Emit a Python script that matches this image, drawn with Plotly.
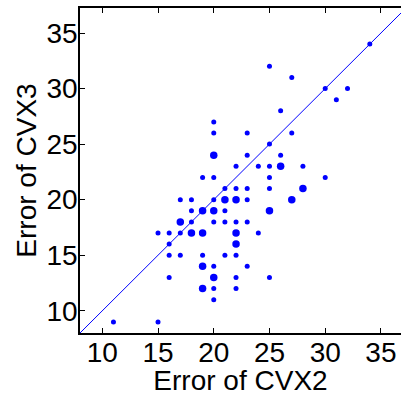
import plotly.graph_objects as go

# Paired errors (integer valued); count = number of coincident samples
cvx2_error = [11, 15, 15, 16, 16, 16, 16, 17, 17, 17, 17, 18, 18, 18, 18,
              19, 19, 19, 19, 19, 19, 20, 20, 20, 20, 20, 20, 20, 20, 20, 20, 20,
              21, 21, 21, 21, 21, 22, 22, 22, 22, 22, 22, 22, 22, 22,
              23, 23, 23, 23, 23, 23, 24, 24, 25, 25, 25, 25, 25, 25, 25,
              26, 26, 26, 27, 27, 27, 28, 28, 30, 30, 31, 32, 34]
cvx3_error = [9, 9, 17, 17, 16, 15, 13, 20, 18, 17, 15, 20, 19, 18, 17,
              22, 19, 17, 15, 14, 12, 27, 26, 24, 22, 20, 19, 18, 14, 13, 12, 11,
              21, 20, 19, 18, 15, 23, 21, 20, 18, 17, 16, 15, 13, 12,
              26, 24, 21, 20, 18, 14, 23, 17, 32, 25, 23, 22, 21, 19, 13,
              28, 24, 23, 31, 26, 20, 23, 21, 30, 22, 29, 30, 34]
counts = [1, 1, 1, 1, 1, 1, 1, 1, 2, 1, 1, 1, 1, 1, 2,
          1, 2, 2, 1, 2, 2, 1, 1, 2, 1, 1, 2, 1, 1, 2, 1, 1,
          1, 2, 1, 1, 1, 1, 1, 2, 1, 2, 2, 1, 1, 1,
          1, 1, 1, 1, 1, 1, 1, 1, 1, 1, 1, 1, 1, 2, 1,
          1, 1, 2, 1, 1, 2, 1, 2, 1, 1, 1, 1, 1]

diag = [8, 38]
x_ticks = [10, 15, 20, 25, 30, 35]
y_ticks = [10, 15, 20, 25, 30, 35]

sizes = [5 if c == 1 else 7.5 for c in counts]

fig = go.Figure()
fig.add_trace(go.Scatter(x=diag, y=diag, mode="lines",
                         line=dict(color="#0000FF", width=1), hoverinfo="skip"))
fig.add_trace(go.Scatter(x=cvx2_error, y=cvx3_error, mode="markers",
                         marker=dict(color="#0000FF", size=sizes, opacity=1,
                                     line=dict(width=0))))

font = dict(family="Liberation Sans, Arial, sans-serif", size=28, color="black")
fig.update_layout(
    width=401, height=396,
    margin=dict(l=80, r=0, t=8, b=63),
    paper_bgcolor="white", plot_bgcolor="white",
    showlegend=False,
    font=font,
    xaxis=dict(range=[8, 36.8], tickvals=x_ticks, ticks="inside", ticklen=5,
               tickcolor="black", showline=True, linecolor="black", linewidth=1.5,
               mirror="ticks", showgrid=False, zeroline=False, tickfont=font,
               ticklabelstandoff=-6,
               title=dict(text="Error of CVX2", font=font, standoff=0)),
    yaxis=dict(range=[8, 37.25], tickvals=y_ticks, ticks="inside", ticklen=5,
               tickcolor="black", showline=True, linecolor="black", linewidth=1.5,
               mirror=False, showgrid=False, zeroline=False, tickfont=font,
               ticklabelstandoff=-5,
               title=dict(text="Error of CVX3", font=font, standoff=2)),
)
fig.write_html("out.html")
